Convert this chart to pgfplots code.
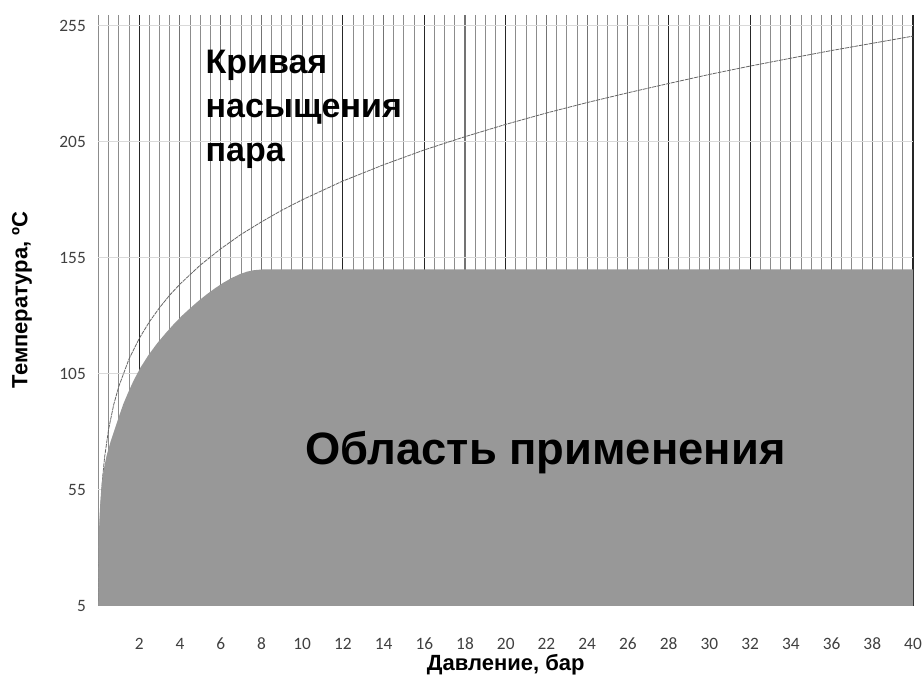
\documentclass[border=0pt]{standalone}
\usepackage{pgfplots}
\pgfplotsset{compat=1.18}
\usepackage{fontspec}
\setmainfont{Liberation Sans}
\newfontfamily\tickfont{Carlito}
\definecolor{fillgray}{RGB}{152,152,152}
\definecolor{ticktext}{RGB}{64,64,64}
\begin{document}
\begin{tikzpicture}
\useasboundingbox (-73.875pt,-61.5pt) rectangle (619.125pt,454.5pt);
\begin{axis}[
  at={(0,0)}, anchor=south west,
  scale only axis, width=610.875pt, height=443.25pt,
  xmin=0, xmax=40, ymin=5, ymax=259.5,
  axis line style={draw=none},
  tick style={draw=none},
  major tick length=0pt, minor tick length=0pt,
  xtick={2,4,...,40}, ytick={5,55,...,255},
  minor xtick={0,0.5,...,40},
  xmajorgrids, xminorgrids,
  major grid style={black!55, line width=0.8pt},
  minor grid style={black!45, line width=0.75pt},
  extra x ticks={2,12,16,20,28,32,40},
  extra x tick labels={},
  extra x tick style={grid=major, major grid style={black!85, line width=0.85pt}},
  extra y ticks={55,105,155,205,255},
  extra y tick labels={},
  extra y tick style={grid=major, major grid style={gray!30, line width=0.6pt}},
  /pgf/number format/assume math mode=true,
  ticklabel style={font=\tickfont\fontsize{13}{13}\selectfont, text=ticktext},
  xticklabel style={text height=9pt, text depth=0pt},
  xticklabel shift=20pt,
  yticklabel shift=6pt,
  xlabel={Давление, бар}, ylabel={Температура, ºC},
  every axis x label/.style={at={(axis description cs:0.5,-0.1)}, anchor=center, font=\bfseries\fontsize{16.5}{16.5}\selectfont},
  every axis y label/.style={at={(axis description cs:-0.094,0.518)}, anchor=center, rotate=90, font=\bfseries\fontsize{16.5}{16.5}\selectfont},
  clip=true,
]
% saturation curve (absolute pressure, bar ; temperature, C)
\addplot[black!60, line width=0.6pt, dash pattern=on 3pt off 0.6pt] coordinates {
(0.01,7.0) (0.02,17.5) (0.05,32.9) (0.1,45.8) (0.2,60.1) (0.3,69.1) (0.5,81.3)
(0.75,91.8) (1,99.6) (1.5,111.4) (2,120.2) (2.5,127.4) (3,133.5) (3.5,138.9) (4,143.6)
(5,151.8) (6,158.8) (7,165.0) (8,170.4) (9,175.4) (10,179.9) (12,188.0)
(14,195.0) (16,201.4) (18,207.1) (20,212.4) (22,217.3) (24,221.8) (26,226.0)
(28,230.0) (30,233.9) (32,237.5) (34,240.9) (36,244.2) (38,247.3) (40,250.4)
};
% application area
\addplot[fill=fillgray, draw=none] coordinates {
(0,5) (0,22) (0.01,30) (0.03,38) (0.06,45) (0.1,51) (0.16,57.9) (0.25,63.5)
(0.4,69.8) (0.6,76) (0.81,81.5) (1.0,86.5) (1.22,92) (1.45,96.8) (1.72,102)
(2.05,107.5) (2.45,113) (2.87,118) (3.3,122.5) (3.69,126.3) (4.1,130) (4.51,133.3)
(4.9,136.3) (5.33,139.3) (5.75,142) (6.15,144.3) (6.55,146.3) (6.97,148)
(7.3,149) (7.63,149.6) (8.0,149.9) (8.4,150) (40,150) (40,5)
} -- cycle;
\node[anchor=north west, inner sep=0pt, align=left,
      font=\bfseries\fontsize{25.5}{33}\selectfont] at (axis cs:5.25,244.7)
      {Кривая\\насыщения\\пара};
\node[anchor=base, inner sep=0pt, font=\bfseries\fontsize{34}{34}\selectfont] at (axis cs:21.95,65.8) {Область применения};
\end{axis}
\end{tikzpicture}
\end{document}
